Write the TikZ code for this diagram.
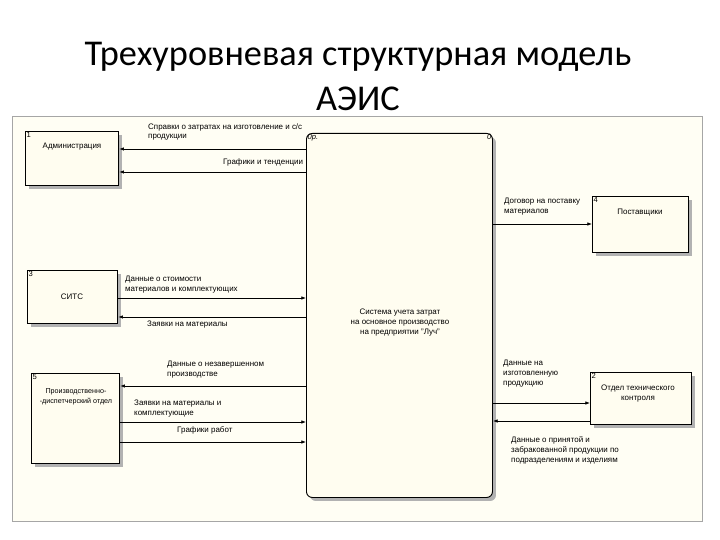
\documentclass[tikz,border=0pt]{standalone}
\usepackage{fontspec}
\setmainfont{Liberation Sans}
\newfontfamily\titlefont{Carlito}
\usetikzlibrary{arrows.meta,shadows}

\definecolor{paper}{HTML}{FFFEF4}
\definecolor{boxfill}{HTML}{FFFDF0}

\begin{document}
\begin{tikzpicture}[
  x=0.03cm, y=-0.03cm,
  ent/.style={draw, line width=1.1pt, fill=boxfill, inner sep=0pt, anchor=north west,
    drop shadow={shadow xshift=3pt, shadow yshift=-3pt, fill=gray!60, opacity=1}},
  sysbox/.style={draw, line width=0.8pt, fill=boxfill, rounded corners=5pt, inner sep=0pt, anchor=north west,
    drop shadow={shadow xshift=3pt, shadow yshift=-3pt, fill=gray!60, opacity=1}},
  enttext/.style={font=\fontsize{6.8}{8.5}\selectfont, align=center, inner sep=0pt},
  lbl/.style={font=\fontsize{6.8}{8.5}\selectfont, align=left, inner sep=0pt, anchor=north west},
  boxnum/.style={font=\fontsize{6.5}{7}\selectfont, inner sep=1.2pt, anchor=north west},
  flow/.style={-{Latex[length=4pt,width=3pt]}, line width=0.6pt},
  heading/.style={font=\titlefont\fontsize{31}{36}\selectfont}
]
\useasboundingbox (0,0) rectangle (720,540);

% title
\node[heading] (title) at (358,57) {Трехуровневая структурная модель};
\node[heading] (title2) at (358,99) {АЭИС};

% diagram sheet
\draw[gray!70, fill=paper] (12,116) rectangle (702,521);

% central process
\node[sysbox, minimum width=5.58cm, minimum height=10.92cm] (sys) at (306,133) {};
\node[boxnum] (sysnum) at (sys.north west) {\itshape 0р.};
\node[boxnum, anchor=north east] (sysnode) at (sys.north east) {\itshape 0};
\node[enttext] (systext) at (400,323) {Система учета затрат\\на основное производство\\на предприятии "Луч"};

% external entities
\node[ent, minimum width=2.79cm, minimum height=1.62cm] (adm) at (25,131) {};
\node[boxnum] (admnum) at (adm.north west) {1};
\node[enttext] (admtext) at (72,147) {Администрация};

\node[ent, minimum width=2.88cm, minimum height=1.68cm] (sup) at (592,196) {};
\node[boxnum] (supnum) at (sup.north west) {4};
\node[enttext] (suptext) at (640,213) {Поставщики};

\node[ent, minimum width=2.7cm, minimum height=1.59cm] (sitc) at (27,270) {};
\node[boxnum] (sitcnum) at (sitc.north west) {3};
\node[enttext] (sitctext) at (72,297) {СИТС};

\node[ent, minimum width=2.64cm, minimum height=2.7cm] (pdo) at (31,373) {};
\node[boxnum] (pdonum) at (pdo.north west) {5};
\node[enttext, font=\fontsize{6.1}{8.5}\selectfont] (pdotext) at (76,397) {Производственно-\\-диспетчерский отдел};

\node[ent, minimum width=3.03cm, minimum height=1.56cm] (otk) at (590,372) {};
\node[boxnum] (otknum) at (otk.north west) {2};
\node[enttext] (otktext) at (638,394) {Отдел технического\\контроля};

% flows
\draw[flow] (sys.west |- 0,149) -- (adm.east |- 0,149);
\draw[flow] (sys.west |- 0,172) -- (adm.east |- 0,172);
\draw[flow] (sys.east |- 0,224) -- (sup.west |- 0,224);
\draw[flow] (sitc.east |- 0,298) -- (sys.west |- 0,298);
\draw[flow] (sys.west |- 0,317) -- (sitc.east |- 0,317);
\draw[flow] (sys.west |- 0,386) -- (pdo.east |- 0,386);
\draw[flow] (pdo.east |- 0,422) -- (sys.west |- 0,422);
\draw[flow] (pdo.east |- 0,442) -- (sys.west |- 0,442);
\draw[flow] (sys.east |- 0,403) -- (otk.west |- 0,403);
\draw[flow] (otk.west |- 0,421) -- (sys.east |- 0,421);

% flow labels
\node[lbl] (sprav) at (148,123) {Справки о затратах на изготовление и с/с\\продукции};
\node[lbl] (graf) at (223,158) {Графики и тенденции};
\node[lbl] (dog) at (504,198) {Договор на поставку\\материалов};
\node[lbl] (stoim) at (125,276) {Данные о стоимости\\материалов и комплектующих};
\node[lbl] (zayav) at (147,321) {Заявки на материалы};
\node[lbl] (nezav) at (167,361) {Данные о незавершенном\\производстве};
\node[lbl] (zaymat) at (134,400) {Заявки на материалы и\\комплектующие};
\node[lbl] (grafrab) at (177,426) {Графики работ};
\node[lbl] (izgot) at (503,360) {Данные на\\изготовленную\\продукцию};
\node[lbl] (prin) at (511,436) {Данные о принятой и\\забракованной продукции по\\подразделениям и изделиям};
\end{tikzpicture}
\end{document}
